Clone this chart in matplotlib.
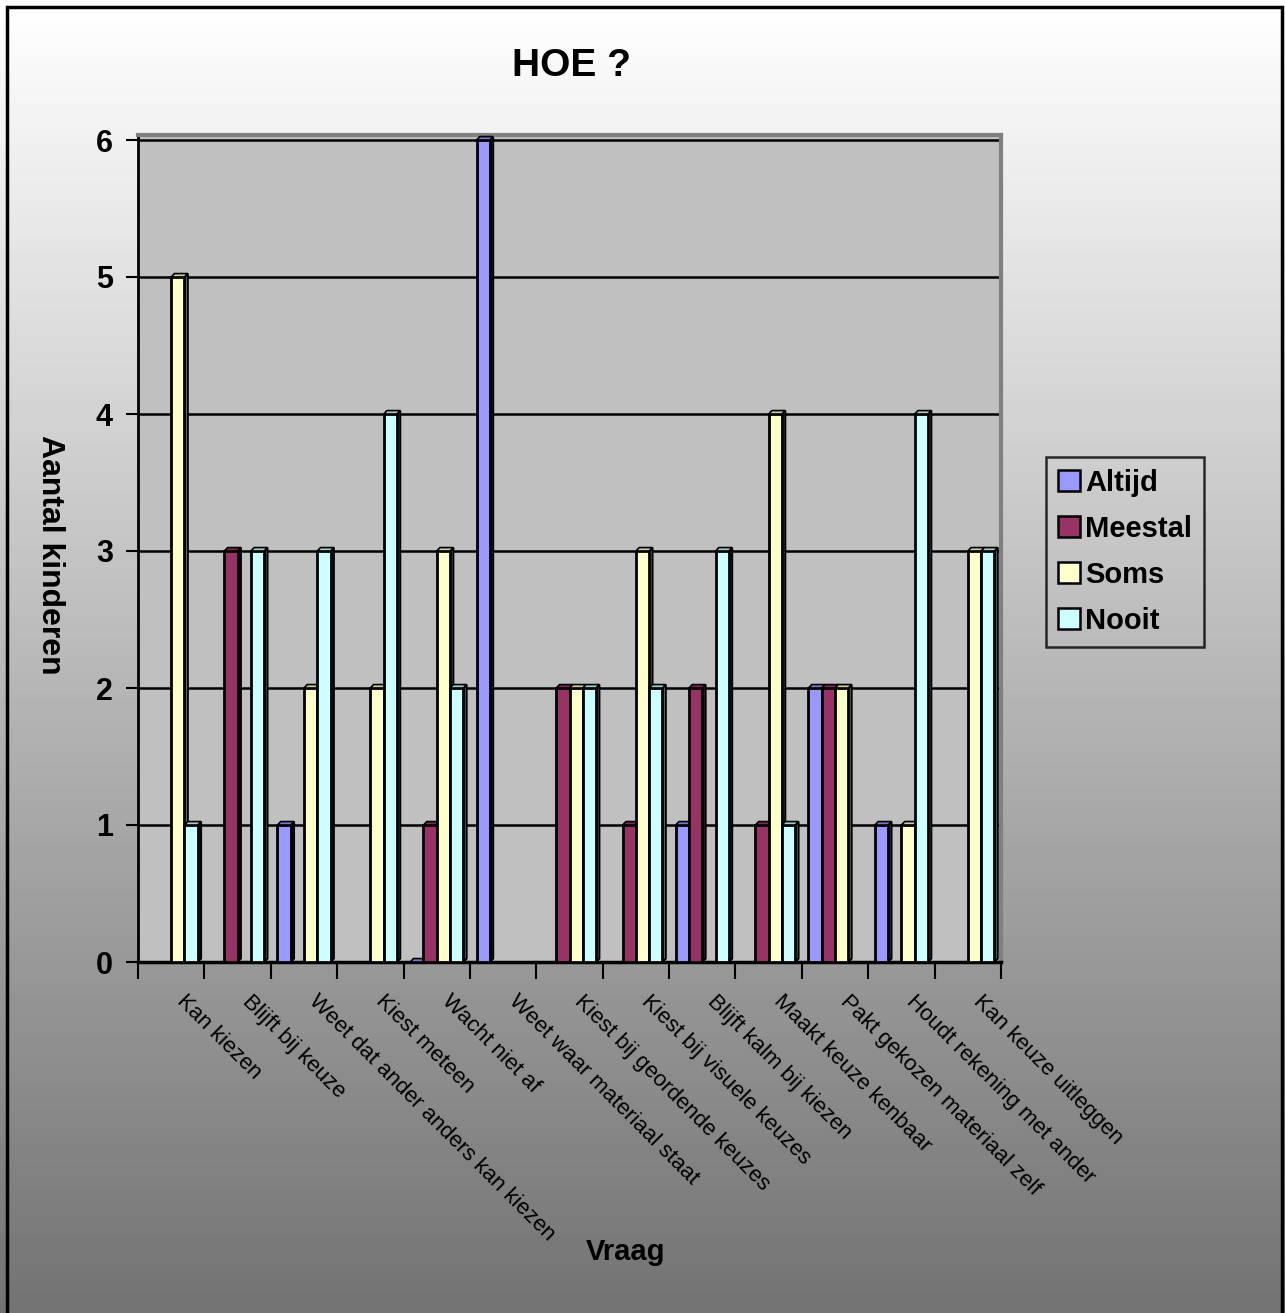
import numpy as np
import matplotlib
matplotlib.use("Agg")
import matplotlib.pyplot as plt
from matplotlib.patches import Rectangle, Polygon
from matplotlib.colors import to_rgb

plt.rcParams['font.family'] = ['Liberation Sans', 'DejaVu Sans']

categories = ["Kan kiezen", "Blijft bij keuze", "Weet dat ander anders kan kiezen",
              "Kiest meteen", "Wacht niet af", "Weet waar materiaal staat",
              "Kiest bij geordende keuzes", "Kiest bij visuele keuzes",
              "Blijft kalm bij kiezen", "Maakt keuze kenbaar",
              "Pakt gekozen materiaal zelf", "Houdt rekening met ander",
              "Kan keuze uitleggen"]
series_names = ["Altijd", "Meestal", "Soms", "Nooit"]
nan = np.nan
altijd  = [nan, nan, 1, nan, 0, 6, nan, nan, 1, nan, 2, 1, nan]
meestal = [nan, 3, nan, nan, 1, nan, 2, 1, 2, 1, 2, nan, nan]
soms    = [5, nan, 2, 2, 3, nan, 2, 3, nan, 4, 2, 1, 3]
nooit   = [1, 3, 3, 4, 2, nan, 2, 2, 3, 1, nan, 4, 3]
series = [altijd, meestal, soms, nooit]
colors = ["#9999FF", "#993366", "#FFFFCC", "#CCFFFF"]
yticks = [0, 1, 2, 3, 4, 5, 6]

W, H = 1285, 1313
fig = plt.figure(figsize=(W / 100, H / 100), dpi=100)

# gradient background
bg = fig.add_axes([0, 0, 1, 1], zorder=-10)
grad = np.linspace(1.0, 0.45, 256).reshape(-1, 1)
bg.imshow(grad, aspect='auto', cmap='gray', vmin=0, vmax=1,
          extent=[0, 1, 0, 1], origin='upper')
bg.add_patch(Rectangle((7 / W, -0.01), (1282 - 7) / W, 1 - 7 / H + 0.01,
                       fill=False, edgecolor='black', linewidth=2.5,
                       transform=bg.transAxes))
bg.set_xlim(0, 1); bg.set_ylim(0, 1)
bg.axis('off')

left, right = 138 / W, 1001 / W
bottom, top = (H - 962) / H, (H - 135) / H
ax = fig.add_axes([left, bottom, right - left, top - bottom])
n = len(categories)
x = np.arange(n)
ax.set_xlim(-0.5, n - 0.5)
ymax = 6 * (962 - 135) / (962 - 140)
ax.set_ylim(0, ymax)
ax.set_facecolor('#C0C0C0')
for s in ['top', 'right']:
    ax.spines[s].set_color('#808080')
    ax.spines[s].set_linewidth(3)
ax.spines['left'].set_linewidth(2)
ax.spines['bottom'].set_linewidth(2.5)

for yv in yticks[1:]:
    ax.axhline(yv, color='black', linewidth=1.8, zorder=1)

bw = 0.2
dx, dy = 0.05, 0.025

def shade(c, f):
    r, g, b = to_rgb(c)
    return (r * f, g * f, b * f)

for i, (vals, col) in enumerate(zip(series, colors)):
    offs = (i - 1.5) * bw
    xs = x + offs
    hs = np.array(vals, dtype=float)
    mask = ~np.isnan(hs)
    ax.bar(xs[mask], hs[mask], width=bw, color=col, edgecolor='black',
           linewidth=2, zorder=3 + i, label=series_names[i])
    for xc, h in zip(xs[mask], hs[mask]):
        x0, x1 = xc - bw / 2, xc + bw / 2
        side = Polygon([(x1, 0), (x1 + dx, dy), (x1 + dx, h + dy), (x1, h)],
                       closed=True, facecolor=shade(col, 0.55),
                       edgecolor='black', linewidth=1.5, zorder=2.5 + i)
        topf = Polygon([(x0, h), (x0 + dx, h + dy), (x1 + dx, h + dy), (x1, h)],
                       closed=True, facecolor=shade(col, 0.8),
                       edgecolor='black', linewidth=1.2, zorder=3.5 + i)
        ax.add_patch(side)
        ax.add_patch(topf)

ax.set_yticks(yticks)
ax.set_yticklabels([str(v) for v in yticks], fontsize=22, fontweight='bold')
ax.tick_params(axis='y', length=9, width=1.5, pad=9)
ax.set_xticks(np.arange(n + 1) - 0.5, minor=False)
ax.set_xticklabels([])
ax.tick_params(axis='x', length=12, width=1.5, direction='out')
for xi, lab in zip(x, categories):
    ax.annotate(lab, xy=(xi, 0), xycoords=('data', 'axes fraction'),
                xytext=(6, -26), textcoords='offset points',
                rotation=-45, rotation_mode='anchor', ha='left', va='center',
                fontsize=16, color='black')

fig.text(572 / W, 1 - 66 / H, "HOE ?", ha='center', va='center',
         fontsize=28, fontweight='bold')
fig.text(50 / W, 1 - 555 / H, "Aantal kinderen", ha='center', va='center',
         rotation=270, fontsize=23, fontweight='bold')
fig.text(626 / W, 1 - 1252 / H, "Vraag", ha='center', va='center',
         fontsize=21, fontweight='bold')

leg = fig.legend(loc='upper left', bbox_to_anchor=(1046 / W, 1 - 457 / H),
                 frameon=True, fancybox=False,
                 prop={'weight': 'bold', 'size': 21},
                 handlelength=0.75, handleheight=0.75, handletextpad=0.2,
                 labelspacing=0.62, borderpad=0.4, borderaxespad=0)
leg.get_frame().set_edgecolor('black')
leg.get_frame().set_linewidth(1.8)
leg.get_frame().set_facecolor('none')
for p in leg.get_patches():
    p.set_linewidth(1.8)

fig.savefig("out.png", dpi=100)
